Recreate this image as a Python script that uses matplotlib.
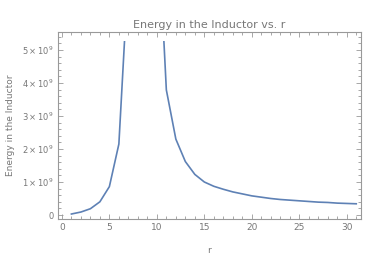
import numpy as np
import matplotlib
matplotlib.use('Agg')
import matplotlib.pyplot as plt
from matplotlib.patches import Rectangle
from matplotlib.ticker import MultipleLocator, FixedLocator

# Energy stored in the inductor at integer r (values near resonance run off the plot)
r_values = list(range(1, 32))
energy = [0.03e9, 0.09e9, 0.19e9, 0.40e9, 0.86e9, 2.15e9, 7.4e9, 2.0e10, 2.5e10,
          9.5e9, 3.79e9, 2.30e9, 1.62e9, 1.23e9, 1.00e9, 0.87e9, 0.78e9, 0.70e9,
          0.64e9, 0.58e9, 0.54e9, 0.50e9, 0.47e9, 0.45e9, 0.43e9, 0.41e9, 0.39e9,
          0.38e9, 0.36e9, 0.35e9, 0.34e9]
y_ticks = [0, 1e9, 2e9, 3e9, 4e9, 5e9]
y_tick_labels = ['0'] + [r'$%d\times10^{9}$' % k for k in range(1, 6)]
PLOT_TOP = 5.27e9

plt.rcParams['font.family'] = 'DejaVu Sans'
plt.rcParams['mathtext.fontset'] = 'dejavusans'
GRAY = '#777777'
FRAME = '#999999'

fig = plt.figure(figsize=(3.81, 2.57), dpi=100)
ax = fig.add_axes([0.152, 0.148, 0.7955, 0.7275])

line, = ax.plot(r_values, energy, color='#5E81B5', linewidth=1.2)
ax.set_xlim(-0.42, 31.5)
ax.set_ylim(-0.12e9, 5.545e9)
clip = Rectangle((-1, -1e9), 40, PLOT_TOP + 1e9, transform=ax.transData)
line.set_clip_path(clip)

ax.xaxis.set_major_locator(MultipleLocator(5))
ax.xaxis.set_minor_locator(MultipleLocator(1))
ax.yaxis.set_major_locator(FixedLocator(y_ticks))
ax.yaxis.set_minor_locator(MultipleLocator(0.2e9))
ax.set_yticklabels(y_tick_labels)

for s in ax.spines.values():
    s.set_color(FRAME)
    s.set_linewidth(0.8)
ax.tick_params(which='both', direction='in', top=True, right=True,
               colors=FRAME, labelcolor=GRAY, labelsize=6.5, width=0.6)
ax.tick_params(which='major', length=3.5, pad=3)
ax.tick_params(which='minor', length=2)
ax.tick_params(axis='y', labelsize=6)

ax.set_title('Energy in the Inductor vs. r', fontsize=8, color=GRAY, pad=3)
ax.set_xlabel('r', fontsize=6.5, color=GRAY, labelpad=10)
ax.set_ylabel('Energy in the Inductor', fontsize=6.5, color=GRAY, labelpad=5)

fig.savefig('out.png', dpi=100, facecolor='white')
